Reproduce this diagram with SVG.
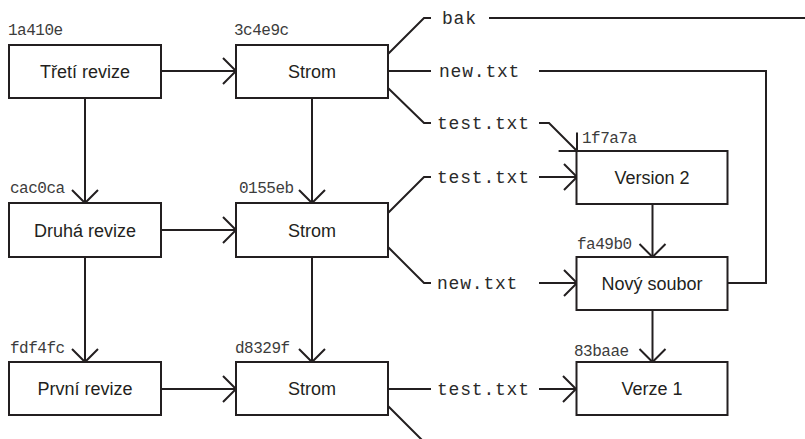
<svg xmlns="http://www.w3.org/2000/svg" width="805" height="439" viewBox="0 0 805 439">
  <style>
    .box rect { fill: #ffffff; stroke: #231f20; stroke-width: 2; }
    .box text { font-family: "Liberation Sans", Arial, sans-serif; font-size: 18px; fill: #231f20; text-anchor: middle; }
    .box text.hash { font-family: "Liberation Mono", "DejaVu Sans Mono", monospace; font-size: 16px; letter-spacing: -0.5px; fill: #3c3c3c; text-anchor: start; }
    .entry { font-family: "Liberation Mono", "DejaVu Sans Mono", monospace; font-size: 18px; letter-spacing: 0.8px; fill: #2a2a2a; }
    .conn path { fill: none; stroke: #231f20; stroke-width: 2; }
  </style>
  <defs>
    <marker id="arr" viewBox="-16 -16 18 32" refX="0" refY="0" markerWidth="18" markerHeight="32" markerUnits="userSpaceOnUse" orient="auto">
      <path d="M-13,-13 L0,0 L-13,13" fill="none" stroke="#231f20" stroke-width="2"/>
    </marker>
  </defs>
  <rect width="805" height="439" fill="#ffffff"/>

  <g id="connectors" class="conn">
    <path d="M161,71 H236" marker-end="url(#arr)"/>
    <path d="M85,98 V203" marker-end="url(#arr)"/>
    <path d="M161,230 H236" marker-end="url(#arr)"/>
    <path d="M85,257 V362" marker-end="url(#arr)"/>
    <path d="M161,389 H236" marker-end="url(#arr)"/>
    <path d="M312,98 V203" marker-end="url(#arr)"/>
    <path d="M312,257 V362" marker-end="url(#arr)"/>
    <path d="M388,54 L424,18 H431"/>
    <path d="M489,18 H805"/>
    <path d="M388,71 H431"/>
    <path d="M539,71 H766 V283 H728"/>
    <path d="M388,88 L424,123 H431"/>
    <path d="M539,123 H549 L577,151" marker-end="url(#arr)"/>
    <path d="M388,213 L424,177 H431"/>
    <path d="M539,177 H577" marker-end="url(#arr)"/>
    <path d="M388,247 L424,283 H431"/>
    <path d="M539,283 H577" marker-end="url(#arr)"/>
    <path d="M388,389 H431"/>
    <path d="M539,389 H576" marker-end="url(#arr)"/>
    <path d="M388,406 L424,442 H431"/>
    <path d="M652.5,204 V257" marker-end="url(#arr)"/>
    <path d="M652.5,310 V362" marker-end="url(#arr)"/>
  </g>

  <g id="entry-labels">
    <text class="entry" x="442" y="24">bak</text>
    <text class="entry" x="439" y="77">new.txt</text>
    <text class="entry" x="437" y="129">test.txt</text>
    <text class="entry" x="437" y="183">test.txt</text>
    <text class="entry" x="437" y="289">new.txt</text>
    <text class="entry" x="437" y="395">test.txt</text>
  </g>

  <g id="commit-3" class="box">
    <text class="hash" x="8" y="35">1a410e</text>
    <rect x="9" y="45" width="152" height="53"/>
    <text x="85" y="78">Třetí revize</text>
  </g>
  <g id="tree-3" class="box">
    <text class="hash" x="234" y="35">3c4e9c</text>
    <rect x="236" y="45" width="152" height="53"/>
    <text x="312" y="78">Strom</text>
  </g>
  <g id="commit-2" class="box">
    <text class="hash" x="10" y="193">cac0ca</text>
    <rect x="9" y="203" width="152" height="54"/>
    <text x="85" y="236.5">Druhá revize</text>
  </g>
  <g id="tree-2" class="box">
    <text class="hash" x="239" y="193">0155eb</text>
    <rect x="236" y="203" width="152" height="54"/>
    <text x="312" y="236.5">Strom</text>
  </g>
  <g id="commit-1" class="box">
    <text class="hash" x="10" y="353">fdf4fc</text>
    <rect x="9" y="362" width="152" height="53"/>
    <text x="85" y="395">První revize</text>
  </g>
  <g id="tree-1" class="box">
    <text class="hash" x="235" y="353">d8329f</text>
    <rect x="236" y="362" width="152" height="53"/>
    <text x="312" y="395">Strom</text>
  </g>
  <g id="blob-v2" class="box">
    <text class="hash" x="582" y="143">1f7a7a</text>
    <rect x="576.5" y="151" width="151" height="53"/>
    <text x="652" y="184">Version 2</text>
  </g>
  <g id="blob-new" class="box">
    <text class="hash" x="577" y="249">fa49b0</text>
    <rect x="576.5" y="257" width="151" height="53"/>
    <text x="652" y="290">Nový soubor</text>
  </g>
  <g id="blob-v1" class="box">
    <text class="hash" x="574" y="356">83baae</text>
    <rect x="576.5" y="362" width="151" height="53"/>
    <text x="652" y="395">Verze 1</text>
  </g>
</svg>
